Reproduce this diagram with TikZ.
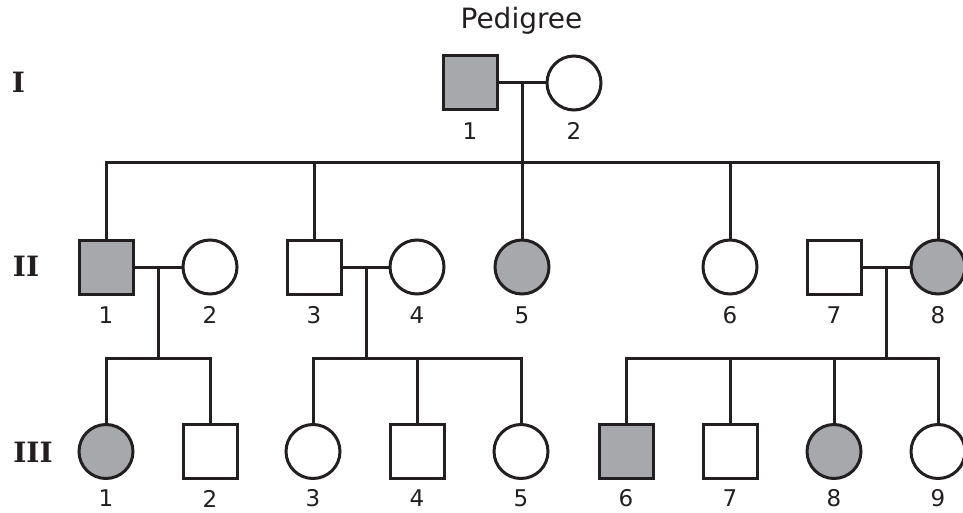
\documentclass[tikz,border=0pt]{standalone}
\usepackage{fontspec}
\setmainfont{DejaVu Sans}
\newfontfamily\genfont{DejaVu Serif}
\definecolor{affgray}{RGB}{167,168,172}
\definecolor{ink}{RGB}{35,31,32}
\begin{document}
\begin{tikzpicture}[x=1pt,y=-1pt,
  line width=3pt, draw=ink, color=ink,
  male/.style={draw=ink, rectangle, minimum size=54pt, inner sep=0pt, fill=white},
  female/.style={draw=ink, circle, minimum size=54pt, inner sep=0pt, fill=white},
  aff/.style={fill=affgray},
  num/.style={font=\fontsize{23}{25}\selectfont, inner sep=0pt, text=ink},
  gen/.style={font=\genfont\bfseries\fontsize{28}{30}\selectfont, inner sep=0pt, text=ink},
  ttl/.style={font=\fontsize{28}{31}\selectfont, inner sep=0pt, text=ink}]
\useasboundingbox (0,0) rectangle (963,513);

\node[ttl, anchor=base] (title) at (521.5,29) {Pedigree};

% generation labels
\node[gen] (gI) at (18.5,82.5) {I};
\node[gen] (gII) at (26,266.5) {II};
\node[gen] (gIII) at (33,452) {III};

% connector coordinates
\coordinate (cI) at (522,83);
\coordinate (sI) at (522,163);
\coordinate (cII12) at (158,267);
\coordinate (sII12) at (158,358);
\coordinate (cII34) at (366,267);
\coordinate (sII34) at (366,358);
\coordinate (cII78) at (886,267);
\coordinate (sII78) at (886,358);

% Generation I
\node[male, aff] (I1) at (470,83) {};
\node[female] (I2) at (574,83) {};

% Generation II
\node[male, aff] (II1) at (106,267) {};
\node[female] (II2) at (210,267) {};
\node[male] (II3) at (314,267) {};
\node[female] (II4) at (417,267) {};
\node[female, aff] (II5) at (522,267) {};
\node[female] (II6) at (730,267) {};
\node[male] (II7) at (834,267) {};
\node[female, aff] (II8) at (938,267) {};

% Generation III
\node[female, aff] (III1) at (106,451.5) {};
\node[male] (III2) at (210,451.5) {};
\node[female] (III3) at (313,451.5) {};
\node[male] (III4) at (417,451.5) {};
\node[female] (III5) at (521,451.5) {};
\node[male, aff] (III6) at (626,451.5) {};
\node[male] (III7) at (730,451.5) {};
\node[female, aff] (III8) at (834,451.5) {};
\node[female] (III9) at (938,451.5) {};

% numbers
\foreach \n/\x in {1/470,2/574} {\node[num] (lI\n) at (\x,131) {\n};}
\foreach \n/\x in {1/106,2/210,3/314,4/417,5/522,6/730,7/834,8/938} {\node[num] (lII\n) at (\x,315) {\n};}
\foreach \n/\x in {1/106,2/210,3/313,4/417,5/521,6/626,7/730,8/834,9/938} {\node[num] (lIII\n) at (\x,498.5) {\n};}

% Generation I family
\draw (I1.east) -- (I2.west);
\draw (cI) -- (sI);
\draw (II1.north) |- (sI) -| (II8.north);
\draw (II3.north) -- (II3.north |- sI);
\draw (II5.north) -- (II5.north |- sI);
\draw (II6.north) -- (II6.north |- sI);

% II-1 x II-2
\draw (II1.east) -- (II2.west);
\draw (cII12) -- (sII12);
\draw (III1.north) |- (sII12) -| (III2.north);

% II-3 x II-4
\draw (II3.east) -- (II4.west);
\draw (cII34) -- (sII34);
\draw (III3.north) |- (sII34) -| (III5.north);
\draw (III4.north) -- (III4.north |- sII34);

% II-7 x II-8
\draw (II7.east) -- (II8.west);
\draw (cII78) -- (sII78);
\draw (III6.north) |- (sII78) -| (III9.north);
\draw (III7.north) -- (III7.north |- sII78);
\draw (III8.north) -- (III8.north |- sII78);
\end{tikzpicture}
\end{document}
